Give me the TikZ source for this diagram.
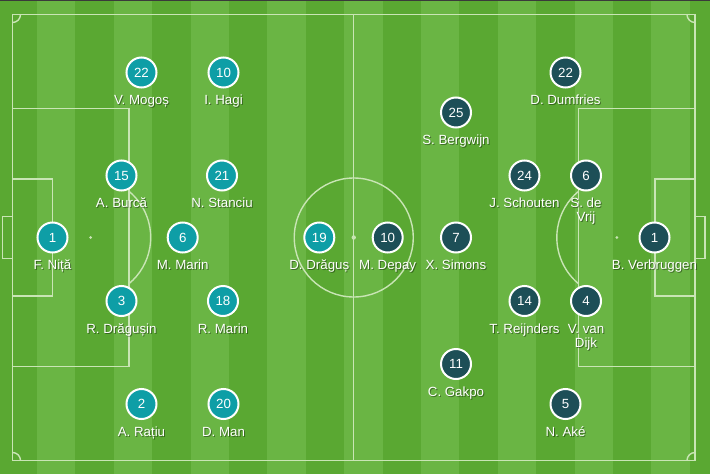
\documentclass[tikz,border=0pt]{standalone}
\usepackage{fontspec}
\setmainfont{Liberation Sans}
\definecolor{grdark}{HTML}{5AA832}
\definecolor{grlight}{HTML}{6AB544}
\definecolor{linecol}{HTML}{C9E5B5}
\definecolor{roteam}{HTML}{0E9EA6}
\definecolor{nlteam}{HTML}{1D4F57}
\definecolor{topbar}{HTML}{3A3A3A}
\newcommand\plrx[7]{%
  \node[#1] (#2) at (#3,#4) {#5};
  \node[lblsh] (#2s) at ([shift={(1,1.2)}]#2.center) [yshift=-#7] {#6};
  \node[lbl] (#2l) at (#2.center) [yshift=-#7] {#6};
}
\newcommand\plr[6]{\plrx{#1}{#2}{#3}{#4}{#5}{#6}{32.2pt}}
\newcommand\plrtwo[6]{\plrx{#1}{#2}{#3}{#4}{#5}{#6}{46.2pt}}
\begin{document}
\begin{tikzpicture}[x=1pt,y=-1pt,
  pline/.style={draw=linecol, line width=1.4pt},
  disc/.style={circle, minimum size=30pt, inner sep=0pt, draw=white, line width=2pt,
    text=white, font=\fontsize{13.3}{14}\selectfont},
  ro/.style={disc, fill=roteam},
  nl/.style={disc, fill=nlteam},
  lbl/.style={text=white, font=\fontsize{13.3}{14}\selectfont, align=center, anchor=base, inner sep=0pt},
  lblsh/.style={lbl, text=black, text opacity=0.4},
]
\useasboundingbox (0,0) rectangle (710,474);
\fill[grdark] (0,0) rectangle (710,474);
\foreach \k in {1,3,...,17} \fill[grlight] ({-1.4+38.4*\k},0) rectangle ({-1.4+38.4*(\k+1)},474);
\fill[topbar] (0,0) rectangle (710,1.2);

% pitch markings
\draw[pline] (12.5,14.5) rectangle (695,460.5);
\draw[pline] (353.75,14.5) -- (353.75,460.5);
\draw[pline] (353.75,237.5) circle[radius=59.5];
\fill[linecol] (353.75,237.5) circle[radius=2.2];
% left
\draw[pline] (12.5,108.3) rectangle (129,366.7);
\draw[pline] (12.5,179) rectangle (52.3,296);
\draw[pline] (2.5,216.5) rectangle (12.5,258.5);
\fill[linecol] (90.7,237.5) circle[radius=1.5];
\draw[pline] ([shift={(-50.3:60)}]90.7,237.5) arc[start angle=-50.3, end angle=50.3, radius=60];
% right
\draw[pline] (578.3,108.3) rectangle (695,366.7);
\draw[pline] (655,179) rectangle (695,296);
\draw[pline] (695,216.5) rectangle (705,258.5);
\fill[linecol] (616.8,237.5) circle[radius=1.5];
\draw[pline] ([shift={(129.7:60)}]616.8,237.5) arc[start angle=129.7, end angle=230.3, radius=60];
% corners
\draw[pline] (20.5,14.5) arc[start angle=0, end angle=90, radius=8];
\draw[pline] (695,22.5) arc[start angle=90, end angle=180, radius=8];
\draw[pline] (12.5,452.5) arc[start angle=270, end angle=360, radius=8];
\draw[pline] (687,460.5) arc[start angle=180, end angle=270, radius=8];

% Romania
\plr{ro}{r22}{141.5}{72.5}{22}{V. Mogoș}
\plr{ro}{r10}{223.5}{72.5}{10}{I. Hagi}
\plr{ro}{r15}{121.5}{175.5}{15}{A. Burcă}
\plr{ro}{r21}{222}{175.5}{21}{N. Stanciu}
\plr{ro}{r1}{52.5}{237.5}{1}{F. Niță}
\plr{ro}{r6}{182.7}{237.5}{6}{M. Marin}
\plr{ro}{r19}{319.3}{237.5}{19}{D. Drăguș}
\plr{ro}{r3}{121.5}{301}{3}{R. Drăgușin}
\plr{ro}{r18}{223}{301}{18}{R. Marin}
\plr{ro}{r2}{141.5}{404}{2}{A. Rațiu}
\plr{ro}{r20}{223.5}{404}{20}{D. Man}
% Netherlands
\plr{nl}{n10}{387.7}{237.5}{10}{M. Depay}
\plr{nl}{n7}{456}{237.5}{7}{X. Simons}
\plr{nl}{n25}{456}{112.5}{25}{S. Bergwijn}
\plr{nl}{n22}{565.5}{72.5}{22}{D. Dumfries}
\plr{nl}{n24}{524.5}{175.5}{24}{J. Schouten}
\plrtwo{nl}{n6}{586}{175.5}{6}{S. de\\Vrij}
\plr{nl}{n1}{654.5}{237.5}{1}{B. Verbruggen}
\plr{nl}{n14}{524.5}{301}{14}{T. Reijnders}
\plrtwo{nl}{n4}{586}{301}{4}{V. van\\Dijk}
\plr{nl}{n11}{456}{364}{11}{C. Gakpo}
\plr{nl}{n5}{565.5}{404}{5}{N. Aké}
\end{tikzpicture}
\end{document}
